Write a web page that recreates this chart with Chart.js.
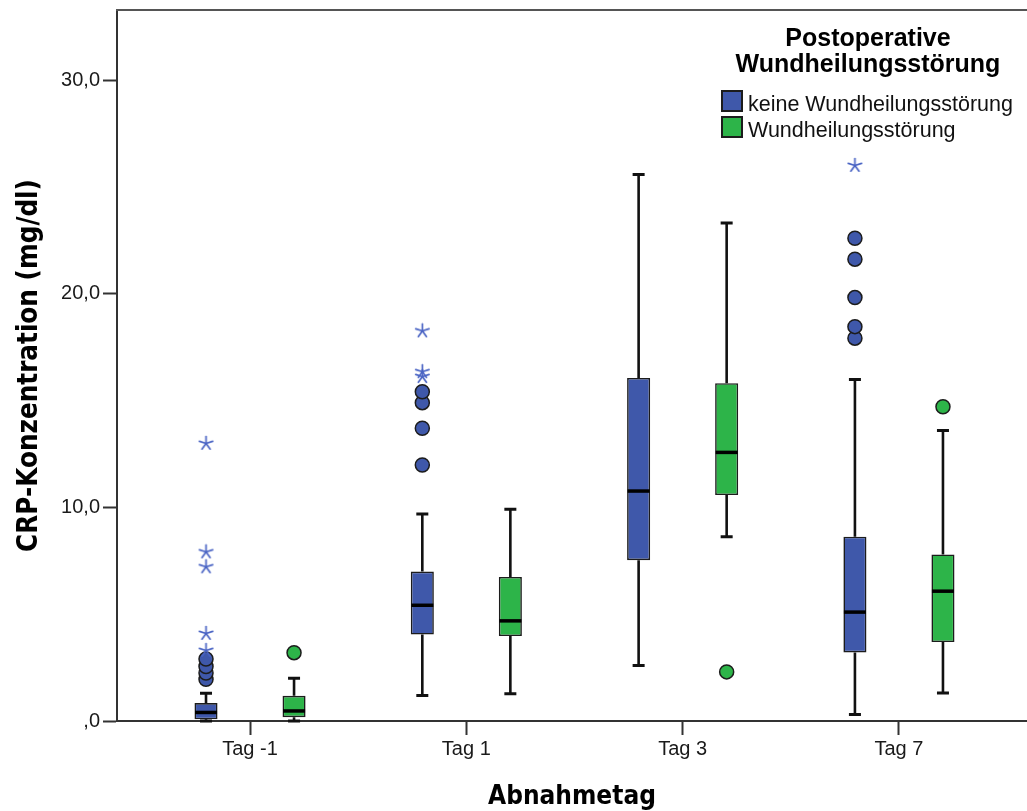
<!DOCTYPE html>
<html><head><meta charset="utf-8">
<script src="https://cdn.jsdelivr.net/npm/chart.js@4.4.1/dist/chart.umd.min.js"></script>
<style>html,body{margin:0;padding:0;background:#fff}#wrap{width:1027px;height:811px}</style>
</head><body><div id="wrap"><canvas id="c" width="1027" height="811"></canvas></div>
<script>
// ---- data ----
const categories = ['Tag -1', 'Tag 1', 'Tag 3', 'Tag 7'];
const seriesNames = ['keine Wundheilungsstörung', 'Wundheilungsstörung'];
const legendTitle = ['Postoperative', 'Wundheilungsstörung'];
const xTitle = 'Abnahmetag';
const yTitle = 'CRP-Konzentration (mg/dl)';
const yTickValues = [0, 10, 20, 30];
const yTickLabels = [',0', '10,0', '20,0', '30,0'];

// keine Wundheilungsstörung (blue)
const noneMin    = [0.0, 1.2, 2.6, 0.3];
const noneQ1     = [0.08, 4.05, 7.53, 3.21];
const noneMedian = [0.40, 5.42, 10.77, 5.10];
const noneQ3     = [0.84, 7.0, 16.07, 8.63];
const noneMax    = [1.3, 9.7, 25.6, 16.0];
const noneOutliers = [[1.95, 2.25, 2.55, 2.9], [11.99, 13.71, 14.91, 15.42], [], [17.93, 18.47, 19.83, 21.63, 22.61]];
const noneExtremes = [[3.3, 4.1, 7.22, 7.92, 13.0], [16.13, 16.36, 18.27], [], [26.02]];

// Wundheilungsstörung (green)
const woundMin    = [0.0, 1.28, 8.63, 1.31];
const woundQ1     = [0.18, 3.98, 10.58, 3.70];
const woundMedian = [0.47, 4.69, 12.58, 6.08];
const woundQ3     = [1.18, 6.75, 15.82, 7.80];
const woundMax    = [2.0, 9.92, 23.32, 13.6];
const woundOutliers = [[3.2], [], [2.30], [14.72]];
const woundExtremes = [[], [], [], []];

// ---- styles ----
const BLUE = '#3f58aa', GREEN = '#2db449', STAR = '#4a64c4', EDGE = '#1c1c1c';
const CAT_PCT = 0.814, BAR_PCT = 0.262;

const groups = [
  {name: seriesNames[0], color: BLUE, min: noneMin, q1: noneQ1, med: noneMedian, q3: noneQ3, max: noneMax, out: noneOutliers, ext: noneExtremes},
  {name: seriesNames[1], color: GREEN, min: woundMin, q1: woundQ1, med: woundMedian, q3: woundQ3, max: woundMax, out: woundOutliers, ext: woundExtremes}
];
const sideOffset = g => (g === 0 ? -1 : 1) * CAT_PCT / 4;

// star (asterisk) point image
function makeStar() {
  const c = document.createElement('canvas');
  c.width = 17; c.height = 17;
  const x = c.getContext('2d');
  x.strokeStyle = STAR; x.lineWidth = 1.7; x.lineCap = 'round';
  for (let k = 0; k < 5; k++) {
    const a = -Math.PI / 2 + k * 2 * Math.PI / 5;
    x.beginPath(); x.moveTo(8.5, 8.5); x.lineTo(8.5 + 7 * Math.cos(a), 8.5 + 7 * Math.sin(a)); x.stroke();
  }
  return c;
}
const starImg = makeStar();

const datasets = [];
groups.forEach((g, gi) => {
  const pts = [], stars = [];
  categories.forEach((_, i) => {
    g.out[i].forEach(v => pts.push({x: i + sideOffset(gi), y: v}));
    g.ext[i].forEach(v => stars.push({x: i + sideOffset(gi), y: v}));
  });
  datasets.push({type: 'scatter', label: g.name + ' extreme', data: stars, pointStyle: starImg, pointRadius: 8, showLine: false});
  datasets.push({type: 'scatter', label: g.name + ' outlier', data: pts, backgroundColor: g.color, borderColor: EDGE, borderWidth: 1.5, pointRadius: 7, pointStyle: 'circle', showLine: false});
});
groups.forEach((g, gi) => {
  datasets.push({type: 'bar', label: g.name, boxGroup: gi,
    data: categories.map((_, i) => ({x: i, y: [g.q1[i], g.q3[i]]})),
    backgroundColor: g.color, borderColor: EDGE, borderWidth: 1.6, borderSkipped: false,
    categoryPercentage: CAT_PCT, barPercentage: BAR_PCT});
});

function barMeta(chart, gi) {
  for (let d = 0; d < chart.data.datasets.length; d++) {
    if (chart.data.datasets[d].boxGroup === gi) return chart.getDatasetMeta(d);
  }
}

const boxPlugin = {
  id: 'boxparts',
  beforeDatasetsDraw(chart) {
    const ctx = chart.ctx, ys = chart.scales.y;
    ctx.save();
    ctx.strokeStyle = '#111'; ctx.lineCap = 'butt';
    groups.forEach((g, gi) => {
      const meta = barMeta(chart, gi);
      meta.data.forEach((bar, i) => {
        const x = bar.x, cap = 6;
        const yMin = ys.getPixelForValue(g.min[i]), yMax = ys.getPixelForValue(g.max[i]);
        const yQ1 = ys.getPixelForValue(g.q1[i]), yQ3 = ys.getPixelForValue(g.q3[i]);
        ctx.lineWidth = 2.6;
        ctx.beginPath();
        ctx.moveTo(x, yQ3); ctx.lineTo(x, yMax);
        ctx.moveTo(x, yQ1); ctx.lineTo(x, yMin);
        ctx.stroke();
        ctx.lineWidth = 3;
        ctx.beginPath();
        ctx.moveTo(x - cap, yMax); ctx.lineTo(x + cap, yMax);
        ctx.moveTo(x - cap, yMin); ctx.lineTo(x + cap, yMin);
        ctx.stroke();
      });
    });
    ctx.restore();
  },
  afterDatasetsDraw(chart) {
    const ctx = chart.ctx, ys = chart.scales.y;
    ctx.save();
    ctx.strokeStyle = '#000'; ctx.lineWidth = 3.5;
    groups.forEach((g, gi) => {
      const meta = barMeta(chart, gi);
      meta.data.forEach((bar, i) => {
        const y = ys.getPixelForValue(g.med[i]), hw = bar.width / 2;
        ctx.beginPath(); ctx.moveTo(bar.x - hw + 0.5, y); ctx.lineTo(bar.x + hw - 0.5, y); ctx.stroke();
      });
    });
    ctx.restore();
  },
  afterDraw(chart) {
    const ctx = chart.ctx, a = chart.chartArea;
    ctx.save();
    // top frame line
    ctx.strokeStyle = '#555'; ctx.lineWidth = 2;
    ctx.beginPath(); ctx.moveTo(a.left - 1, a.top); ctx.lineTo(chart.width, a.top); ctx.stroke();
    // legend
    const cx = a.right - 159;
    ctx.fillStyle = '#000'; ctx.textAlign = 'center'; ctx.textBaseline = 'alphabetic';
    ctx.font = 'bold 25px "Liberation Sans", Arial, sans-serif';
    legendTitle.forEach((t, k) => ctx.fillText(t, cx, a.top + 36 + k * 26));
    ctx.textAlign = 'left';
    ctx.font = '21.5px "Liberation Sans", Arial, sans-serif';
    groups.forEach((g, k) => {
      const bx = a.right - 305, by = a.top + 81 + k * 26;
      ctx.fillStyle = g.color; ctx.fillRect(bx, by, 20, 20);
      ctx.strokeStyle = EDGE; ctx.lineWidth = 2; ctx.strokeRect(bx, by, 20, 20);
      ctx.fillStyle = '#111';
      ctx.fillText(g.name, bx + 26, by + 20);
    });
    ctx.restore();
  }
};

new Chart(document.getElementById('c'), {
  type: 'bar',
  data: {datasets},
  plugins: [boxPlugin],
  options: {
    responsive: false, animation: false,
    layout: {autoPadding: false, padding: {top: 10, right: 0, left: 0, bottom: 0}},
    plugins: {legend: {display: false}, tooltip: {enabled: false}},
    scales: {
      x: {
        type: 'linear', min: -0.615, max: 3.592, offset: false,
        afterBuildTicks: s => { s.ticks = categories.map((_, i) => ({value: i})); },
        afterFit: s => { s.height = 90; s.paddingLeft = 0; s.paddingRight = 0; },
        ticks: {callback: (v, i) => categories[i], color: '#1a1a1a', font: {family: '"Liberation Sans", Arial, sans-serif', size: 20}, padding: 2, maxRotation: 0, autoSkip: false},
        grid: {display: true, offset: false, drawOnChartArea: false, drawTicks: true, tickLength: 14, tickWidth: 2, tickColor: '#333'},
        border: {display: true, color: '#333', width: 2},
        title: {display: true, text: xTitle, color: '#000', font: {family: '"DejaVu Sans Condensed", "DejaVu Sans", sans-serif', weight: 'bold', size: 26, lineHeight: 1.05}, padding: {top: 0, bottom: 0}}
      },
      y: {
        type: 'linear', min: 0, max: 33.3,
        afterBuildTicks: s => { s.ticks = yTickValues.map(v => ({value: v})); },
        afterFit: s => { s.width = 117; s.paddingTop = 0; s.paddingBottom = 0; },
        ticks: {callback: (v, i) => yTickLabels[i], color: '#1a1a1a', font: {family: '"Liberation Sans", Arial, sans-serif', size: 20}, padding: 3},
        grid: {display: true, offset: false, drawOnChartArea: false, drawTicks: true, tickLength: 14, tickWidth: 2, tickColor: '#333'},
        border: {display: true, color: '#333', width: 2},
        title: {display: true, text: yTitle, color: '#000', font: {family: '"DejaVu Sans Condensed", "DejaVu Sans", sans-serif', weight: 'bold', size: 27.5}, padding: {top: 13, bottom: 0}}
      }
    }
  }
});
</script></body></html>
